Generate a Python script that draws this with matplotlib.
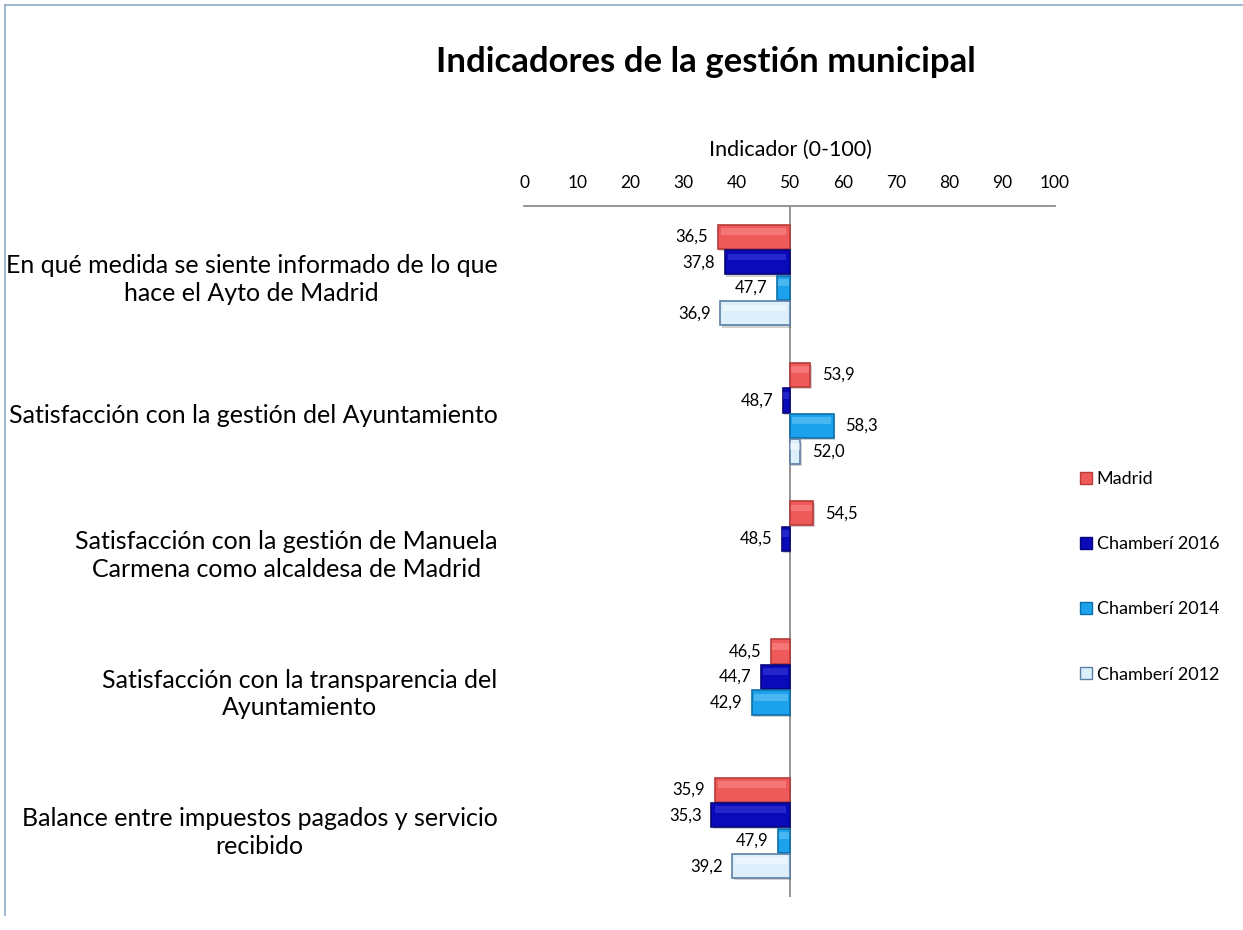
import matplotlib.pyplot as plt
import matplotlib.patches as mpatches
from matplotlib.lines import Line2D

plt.rcParams['font.family'] = ['Lato', 'DejaVu Sans']

# datos
categorias = [
    'En qué medida se siente informado de lo que\nhace el Ayto de Madrid',
    'Satisfacción con la gestión del Ayuntamiento',
    'Satisfacción con la gestión de Manuela\nCarmena como alcaldesa de Madrid',
    'Satisfacción con la transparencia del\nAyuntamiento',
    'Balance entre impuestos pagados y servicio\nrecibido',
]
series = ['Madrid', 'Chamberí 2016', 'Chamberí 2014', 'Chamberí 2012']
madrid = [36.5, 53.9, 54.5, 46.5, 35.9]
chamberi_2016 = [37.8, 48.7, 48.5, 44.7, 35.3]
chamberi_2014 = [47.7, 58.3, None, 42.9, 47.9]
chamberi_2012 = [36.9, 52.0, None, None, 39.2]
valores = [madrid, chamberi_2016, chamberi_2014, chamberi_2012]
eje_ticks = list(range(0, 101, 10))
base = 50

# colores: relleno, borde, brillo
estilos = [
    ('#EE5A5A', '#B83A3A', '#FF9A9A'),
    ('#0A0AB8', '#06067A', '#4848E6'),
    ('#1CA2EC', '#0D6FA8', '#7FD0F8'),
    ('#DCEFFB', '#5C7FA6', '#FFFFFF'),
]

fig = plt.figure(figsize=(12.43, 9.3), dpi=100)
ax = fig.add_axes([0.4216, 0.0355, 0.4272, 0.743])

slot = 0.1845
alto = 0.175
handles = []
for j, (vals, (color, borde, brillo)) in enumerate(zip(valores, estilos)):
    for i, v in enumerate(vals):
        if v is None:
            continue
        y = i + (j - 1.5) * slot
        # sombra
        ax.barh(y + 0.015, v - base, left=base + 0.3, height=alto,
                color='#000000', alpha=0.18, linewidth=0, zorder=1)
        ax.barh(y, v - base, left=base, height=alto, color=color,
                edgecolor=borde, linewidth=1.2, zorder=2)
        # brillo interior para el efecto de bisel
        w = v - base
        ax.barh(y - alto * 0.22, w * 0.9, left=base + w * 0.05,
                height=alto * 0.28, color=brillo, alpha=0.45,
                linewidth=0, zorder=3)
        texto = f'{v:.1f}'.replace('.', ',')
        if v < base:
            ax.text(v - 1.8, y, texto, ha='right', va='center', fontsize=12, zorder=4)
        else:
            ax.text(v + 2.2, y, texto, ha='left', va='center', fontsize=12, zorder=4)
    handles.append(mpatches.Patch(facecolor=color, edgecolor=borde, linewidth=1.0, label=series[j]))

ax.set_xlim(0, 100)
ax.set_ylim(4.5, -0.5)
ax.axvline(base, color='#8C8C8C', linewidth=1.3, zorder=0)

ax.xaxis.tick_top()
ax.set_xticks(eje_ticks)
ax.tick_params(axis='x', length=0, pad=11, labelsize=12.5)

ax.set_yticks(range(len(categorias)))
ax.set_yticklabels(categorias, fontsize=18, multialignment='center', linespacing=1.25)
ax.tick_params(axis='y', length=0, pad=19)

for lado in ['left', 'right', 'bottom']:
    ax.spines[lado].set_visible(False)
ax.spines['top'].set_color('#8C8C8C')
ax.spines['top'].set_linewidth(1.3)
ax.set_facecolor('none')

fig.text(790 / 1243, 1 - 150 / 930, 'Indicador (0-100)', ha='center', va='center', fontsize=15.5)

fig.legend(handles=handles, loc='upper left', bbox_to_anchor=(0.862, 0.503),
           frameon=False, fontsize=13, handlelength=0.65, handleheight=0.65,
           handletextpad=0.25, labelspacing=2.72, borderpad=0)

fig.text(0.568, 1 - 62 / 930, 'Indicadores de la gestión municipal', ha='center',
         va='center', fontsize=25, fontweight='bold')

# marco del gráfico
fig.add_artist(Line2D([5 / 1243, 1], [1 - 5 / 930, 1 - 5 / 930], color='#8EA8C8', linewidth=1.2))
fig.add_artist(Line2D([5 / 1243, 5 / 1243], [1 - 5 / 930, 1 - 915 / 930], color='#8EA8C8', linewidth=1.2))

fig.savefig('out.png', dpi=100)
